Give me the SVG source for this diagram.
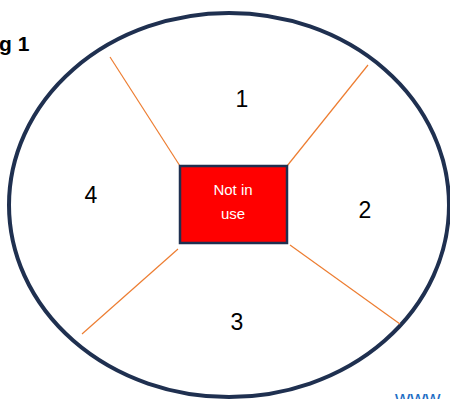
<svg xmlns="http://www.w3.org/2000/svg" width="450" height="399" viewBox="0 0 450 399">
<style>
.num{font-family:"Liberation Sans",Arial,sans-serif;font-size:23px;fill:#000;text-anchor:middle}
.conn line{stroke:#ED7D31;stroke-width:1.2}
.lbl{font-family:"Liberation Sans",Arial,sans-serif;font-size:15px;fill:#fff;text-anchor:middle}
</style>
<rect width="450" height="399" fill="#fff"/>
<text x="-1" y="51" font-family="Liberation Sans,Arial,sans-serif" font-weight="bold" font-size="21" fill="#000">g 1</text>
<g id="outer"><ellipse cx="229" cy="205" rx="220" ry="192" fill="none" stroke="#1F3050" stroke-width="4"/></g>
<g class="conn">
<line x1="110" y1="57" x2="180" y2="166"/>
<line x1="368" y1="65" x2="287" y2="166"/>
<line x1="82" y1="334" x2="178" y2="249"/>
<line x1="400" y1="324" x2="290" y2="245"/>
</g>
<g id="center">
<rect x="180" y="166" width="107" height="77" fill="#FF0000" stroke="#1F3050" stroke-width="2.5"/>
<text class="lbl" x="233" y="195">Not in</text>
<text class="lbl" x="233" y="219">use</text>
</g>
<g id="n1"><text class="num" x="242" y="107">1</text></g>
<g id="n2"><text class="num" x="365" y="218">2</text></g>
<g id="n3"><text class="num" x="237" y="330">3</text></g>
<g id="n4"><text class="num" x="91" y="203">4</text></g>
<text x="395" y="405" font-family="Liberation Sans,Arial,sans-serif" font-size="21" fill="#1F6FC5">www</text>
</svg>
